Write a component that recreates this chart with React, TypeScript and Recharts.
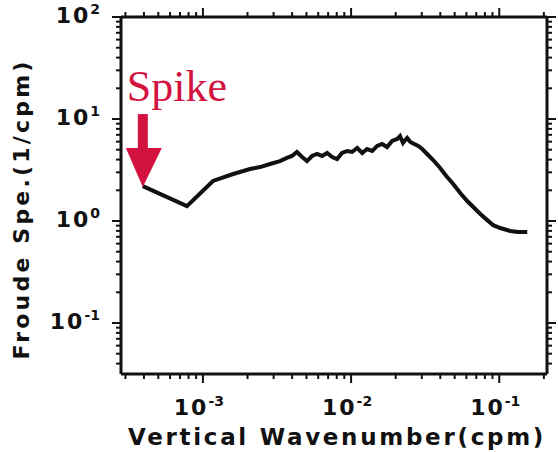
import { LineChart, Line, XAxis, YAxis, ReferenceDot } from "recharts";

// vertical wavenumber (cpm)
const wavenumber = [
  3.93e-4, 7.8e-4, 1.17e-3, 1.6e-3, 2.08e-3, 2.43e-3, 2.84e-3, 3.31e-3, 3.69e-3, 3.99e-3,
  4.31e-3, 4.67e-3, 5.04e-3, 5.45e-3, 5.89e-3, 6.37e-3, 6.89e-3, 7.45e-3, 8.04e-3, 8.69e-3,
  9.4e-3, 1.016e-2, 1.1e-2, 1.19e-2, 1.28e-2, 1.39e-2, 1.5e-2, 1.62e-2, 1.75e-2, 1.89e-2,
  2.05e-2, 2.14e-2, 2.24e-2, 2.39e-2, 2.51e-2, 2.67e-2, 2.84e-2, 3.02e-2, 3.26e-2, 3.58e-2,
  3.99e-2, 4.39e-2, 4.89e-2, 5.45e-2, 6.08e-2, 6.78e-2, 7.45e-2, 8.3e-2, 9.1e-2, 0.1016,
  0.1186, 0.134, 0.1545,
];

// Froude spectrum (1/cpm)
const froudeSpec = [
  2.2, 1.4, 2.47, 2.89, 3.23, 3.38, 3.62, 3.87, 4.15, 4.34,
  4.75, 4.24, 3.87, 4.34, 4.54, 4.34, 4.64, 4.24, 4.05, 4.64,
  4.86, 4.75, 5.2, 4.64, 5.08, 4.86, 5.44, 5.69, 5.31, 6.09,
  6.37, 6.81, 5.82, 6.51, 5.95, 5.69, 5.44, 5.08, 4.54, 3.96,
  3.31, 2.76, 2.31, 1.88, 1.57, 1.34, 1.17, 1.02, 0.91, 0.854,
  0.798, 0.78, 0.78,
];

const xTicks = [
  3e-4, 4e-4, 5e-4, 6e-4, 7e-4, 8e-4, 9e-4,
  1e-3, 2e-3, 3e-3, 4e-3, 5e-3, 6e-3, 7e-3, 8e-3, 9e-3,
  1e-2, 2e-2, 3e-2, 4e-2, 5e-2, 6e-2, 7e-2, 8e-2, 9e-2,
  1e-1, 2e-1,
];

const yTicks = [
  0.04, 0.05, 0.06, 0.07, 0.08, 0.09,
  0.1, 0.2, 0.3, 0.4, 0.5, 0.6, 0.7, 0.8, 0.9,
  1, 2, 3, 4, 5, 6, 7, 8, 9,
  10, 20, 30, 40, 50, 60, 70, 80, 90,
  100,
];

const spikeAt = { x: 3.93e-4, y: 2.2 };

const data = wavenumber.map((x, i) => ({ x, y: froudeSpec[i] }));

const RED = "#d3123f";
const FONT = "'DejaVu Sans', sans-serif";

const isMajor = (v: number) => Math.abs(Math.log10(v) - Math.round(Math.log10(v))) < 1e-6;

function Pow({ x, y, exp, anchor }: { x: number; y: number; exp: number; anchor: "end" | "middle" }) {
  return (
    <text x={x} y={y} textAnchor={anchor} fontFamily={FONT} fontWeight="bold" fontSize={22} fill="#111" letterSpacing={2}>
      <tspan>10</tspan>
      <tspan dy={-9} fontSize={14} letterSpacing={0}>{exp < 0 ? `-${-exp}` : `${exp}`}</tspan>
    </text>
  );
}

function BottomTick(props: any) {
  const { x, y, payload } = props;
  const major = isMajor(payload.value);
  return (
    <g>
      <line x1={x} x2={x} y1={y} y2={y + (major ? 9 : 5)} stroke="#111" strokeWidth={2} />
      {major && <Pow x={x - 4} y={y + 41} exp={Math.round(Math.log10(payload.value))} anchor="middle" />}
    </g>
  );
}

function TopTick(props: any) {
  const { x, y, payload } = props;
  const major = isMajor(payload.value);
  return <line x1={x} x2={x} y1={y} y2={y - (major ? 9 : 5)} stroke="#111" strokeWidth={2} />;
}

function LeftTick(props: any) {
  const { x, y, payload } = props;
  const major = isMajor(payload.value);
  return (
    <g>
      <line x1={x} x2={x - (major ? 9 : 5)} y1={y} y2={y} stroke="#111" strokeWidth={2} />
      {major && <Pow x={x - 21} y={y + 6} exp={Math.round(Math.log10(payload.value))} anchor="end" />}
    </g>
  );
}

function RightTick(props: any) {
  const { x, y, payload } = props;
  const major = isMajor(payload.value);
  return <line x1={x} x2={x + (major ? 9 : 5)} y1={y} y2={y} stroke="#111" strokeWidth={2} />;
}

function Spike(props: any) {
  const { cx, cy } = props;
  return (
    <g>
      <text x={cx - 16} y={cy - 85} fontFamily="'Liberation Serif', serif" fontSize={44} fill={RED}>
        Spike
      </text>
      <rect x={cx - 5} y={cy - 72} width={10} height={38} fill={RED} />
      <polygon points={`${cx - 17},${cy - 38} ${cx + 19},${cy - 38} ${cx},${cy + 1}`} fill={RED} />
    </g>
  );
}

export default function App() {
  return (
    <div style={{ position: "absolute", left: 0, top: 0, width: 558, height: 452, background: "#fff" }}>
      <LineChart width={558} height={452} data={data} margin={{ top: 0, right: 0, bottom: 0, left: 0 }}>
        <XAxis
          dataKey="x"
          type="number"
          scale="log"
          domain={[2.8e-4, 0.21]}
          allowDataOverflow
          ticks={xTicks}
          interval={0}
          height={78}
          tickSize={0}
          tickMargin={0}
          tick={<BottomTick />}
          axisLine={{ stroke: "#111", strokeWidth: 3 }}
          label={() => (
            <text x={337} y={445} textAnchor="middle" fontFamily={FONT} fontWeight="bold" fontSize={23} letterSpacing={2.7} fill="#111">
              Vertical Wavenumber(cpm)
            </text>
          )}
        />
        <XAxis
          xAxisId="top"
          orientation="top"
          dataKey="x"
          type="number"
          scale="log"
          domain={[2.8e-4, 0.21]}
          allowDataOverflow
          ticks={xTicks}
          interval={0}
          height={17}
          tickSize={0}
          tickMargin={0}
          tick={<TopTick />}
          axisLine={{ stroke: "#111", strokeWidth: 3 }}
        />
        <YAxis
          dataKey="y"
          type="number"
          scale="log"
          domain={[Math.pow(10, -1.5), 100]}
          allowDataOverflow
          ticks={yTicks}
          interval={0}
          width={121}
          tickSize={0}
          tickMargin={0}
          tick={<LeftTick />}
          axisLine={{ stroke: "#111", strokeWidth: 3 }}
          label={() => (
            <text
              x={21}
              y={209}
              transform="rotate(-90 21 209)"
              textAnchor="middle"
              dominantBaseline="central"
              fontFamily={FONT}
              fontWeight="bold"
              fontSize={22}
              letterSpacing={3.2}
              fill="#111"
            >
              Froude Spe.(1/cpm)
            </text>
          )}
        />
        <YAxis
          yAxisId="right"
          orientation="right"
          dataKey="y"
          type="number"
          scale="log"
          domain={[Math.pow(10, -1.5), 100]}
          allowDataOverflow
          ticks={yTicks}
          interval={0}
          width={11}
          tickSize={0}
          tickMargin={0}
          tick={<RightTick />}
          axisLine={{ stroke: "#111", strokeWidth: 3 }}
        />
        <Line dataKey="y" type="linear" stroke="#111" strokeWidth={4} dot={false} isAnimationActive={false} />
        <ReferenceDot x={spikeAt.x} y={spikeAt.y} shape={(p: any) => <Spike {...p} />} />
      </LineChart>
    </div>
  );
}
